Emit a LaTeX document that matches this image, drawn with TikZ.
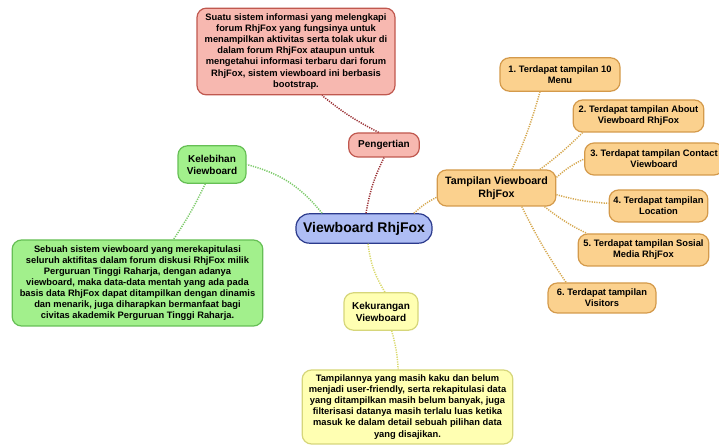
\documentclass[tikz,border=0pt]{standalone}
\usepackage{fontspec}
\setmainfont{Liberation Sans}
\usetikzlibrary{positioning}
\frenchspacing
\definecolor{pinkfill}{HTML}{F7B8B0}
\definecolor{pinkdraw}{HTML}{C0584F}
\definecolor{pinkline}{HTML}{9B3034}
\definecolor{greenfill}{HTML}{A2F08C}
\definecolor{greendraw}{HTML}{66BF55}
\definecolor{greenline}{HTML}{7CCB69}
\definecolor{bluefill}{HTML}{AEBDF4}
\definecolor{bluedraw}{HTML}{2B3A8C}
\definecolor{yellowfill}{HTML}{FFFFB2}
\definecolor{yellowdraw}{HTML}{D6D67A}
\definecolor{yellowline}{HTML}{D9D96A}
\definecolor{orangefill}{HTML}{FBD18E}
\definecolor{orangedraw}{HTML}{D49A4B}
\definecolor{orangeline}{HTML}{D6A84F}
\tikzset{
    topic/.style args={#1 #2}{
        draw=#1, fill=#2, line width=0.9pt, rounded corners=7pt,
        align=center, inner sep=2pt,
        font=\bfseries\fontsize{7}{8.3}\selectfont
    },
    topic/.default={orangedraw orangefill},
    boxsize/.style args={#1 #2}{minimum width=#1pt, minimum height=#2pt},
    link/.style={draw=#1, line width=1.1pt, dash pattern=on 0.9pt off 0.9pt},
    link/.default={orangeline}
}
\begin{document}
\begin{tikzpicture}[x=0.75pt, y=-0.75pt]
    \useasboundingbox[fill=white] (0,0) rectangle (719,445);
    % centre
    \node[topic={bluedraw bluefill}, boxsize={102 22}, rounded corners=10pt,
          font=\bfseries\fontsize{10.5}{12}\selectfont] (root) at (364,228.5) {Viewboard RhjFox};
    % pengertian
    \node[topic={pinkdraw pinkfill}, boxsize={148.5 65}] (pdef) at (296,51.5)
        {Suatu sistem informasi yang melengkapi\\forum RhjFox yang fungsinya untuk\\menampilkan aktivitas serta tolak ukur di\\dalam forum RhjFox ataupun untuk\\mengetahui informasi terbaru dari forum\\RhjFox, sistem viewboard ini berbasis\\bootstrap.};
    \node[topic={pinkdraw pinkfill}, boxsize={53 18}, font=\bfseries\fontsize{7.5}{9}\selectfont] (peng) at (384,145) {Pengertian};
    % kelebihan
    \node[topic={greendraw greenfill}, boxsize={51 28}, font=\bfseries\fontsize{7.5}{9}\selectfont] (kel) at (212,164.5) {Kelebihan\\Viewboard};
    \node[topic={greendraw greenfill}, boxsize={188 64.5}] (keldef) at (137.5,283)
        {Sebuah sistem viewboard yang merekapitulasi\\seluruh aktifitas dalam forum diskusi RhjFox milik\\Perguruan Tinggi Raharja, dengan adanya\\viewboard, maka data-data mentah yang ada pada\\basis data RhjFox dapat ditampilkan dengan dinamis\\dan menarik, juga diharapkan bermanfaat bagi\\civitas akademik Perguruan Tinggi Raharja.};
    % kekurangan
    \node[topic={yellowdraw yellowfill}, boxsize={55.5 28}, font=\bfseries\fontsize{7.5}{9}\selectfont] (kek) at (381,311.5) {Kekurangan\\Viewboard};
    \node[topic={yellowdraw yellowfill}, boxsize={158 55.5}] (kekdef) at (407.5,407)
        {Tampilannya yang masih kaku dan belum\\menjadi user-friendly, serta rekapitulasi data\\yang ditampilkan masih belum banyak, juga\\filterisasi datanya masih terlalu luas ketika\\masuk ke dalam detail sebuah pilihan data\\yang disajikan.};
    % tampilan
    \node[topic, boxsize={89 27}, font=\bfseries\fontsize{8}{9.5}\selectfont] (tamp) at (496.5,188) {Tampilan Viewboard\\RhjFox};
    \node[topic, boxsize={90 25}] (t1) at (560,74.5) {1. Terdapat tampilan 10\\Menu};
    \node[topic, boxsize={98 24}] (t2) at (638.5,116) {2. Terdapat tampilan About\\Viewboard RhjFox};
    \node[topic, boxsize={104 24}] (t3) at (654,159) {3. Terdapat tampilan Contact\\Viewboard};
    \node[topic, boxsize={74 24}] (t4) at (658.5,206) {4. Terdapat tampilan\\Location};
    \node[topic, boxsize={98 24}] (t5) at (643.5,250) {5. Terdapat tampilan Sosial\\Media RhjFox};
    \node[topic, boxsize={81 22.5}] (t6) at (602,298) {6. Terdapat tampilan\\Visitors};
    % connectors
    \draw[link=pinkline] ([xshift=1.5pt]root.north) to[bend left=8] (peng.south);
    \draw[link=pinkline] ([xshift=-4pt]peng.north) to[bend left=6] ([xshift=19.5pt]pdef.south);
    \draw[link=greenline] ([xshift=20pt]root.north west) to[bend right=18] (kel.east);
    \draw[link=greenline] ([xshift=-5pt]kel.south) to[bend left=4] ([xshift=27pt]keldef.north);
    \draw[link=yellowline] ([xshift=3pt]root.south) to[bend right=12] ([xshift=3pt]kek.north);
    \draw[link=yellowline] ([xshift=8pt]kek.south) to[bend left=6] ([xshift=-7pt]kekdef.north);
    \draw[link] ([xshift=-14pt]root.north east) to[bend left=8] ([yshift=-7pt]tamp.west);
    \draw[link] ([xshift=11.6pt]tamp.north) to[bend right=4] ([xshift=-15pt]t1.south);
    \draw[link] ([xshift=32.6pt]tamp.north) to[bend right=4] ([xshift=7.5pt]t2.south west);
    \draw[link] ([yshift=8pt]tamp.east) to[bend left=8] (t3.west);
    \draw[link] ([yshift=-5pt]tamp.east) to[bend right=6] ([yshift=2pt]t4.west);
    \draw[link] ([xshift=36pt]tamp.south) to[bend right=6] ([xshift=7pt]t5.north west);
    \draw[link] ([xshift=19pt]tamp.south) to[bend right=4] ([xshift=14pt]t6.north west);
\end{tikzpicture}
\end{document}
